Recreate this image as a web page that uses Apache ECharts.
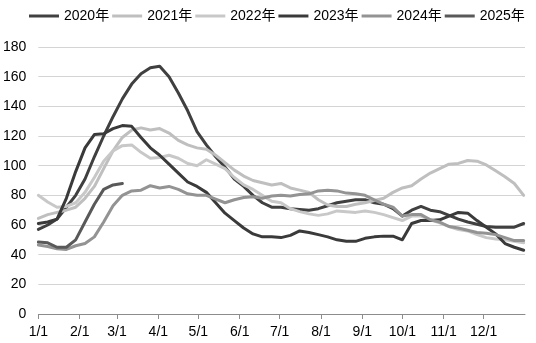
<!DOCTYPE html>
<html>
<head>
<meta charset="utf-8">
<script src="https://cdn.jsdelivr.net/npm/echarts@6/dist/echarts.min.js"></script>
<style>
  html, body { margin: 0; padding: 0; background: #fff; }
  #chart { width: 536px; height: 343px; }
</style>
</head>
<body>
<div id="chart"></div>
<script>
// Weekly readings, x = day of year (0 = Jan 1)
const weekDays = [];
for (let i = 0; i <= 52; i++) weekDays.push(i * 7);

const years = ['2020年', '2021年', '2022年', '2023年', '2024年', '2025年'];
const colors = ['#404040', '#bfbfbf', '#c8c8c8', '#3a3a3a', '#939393', '#595959'];

const v2020 = [57, 60, 64, 72, 80, 91, 106, 120, 133, 145, 155, 162, 166, 167, 160, 149, 137, 123, 114, 106, 99, 91, 86, 80, 75, 72, 72, 71, 70.5, 70, 71, 73, 75, 76, 77, 77, 75, 74, 71, 66, 70, 72.5, 70, 69, 66.5, 64, 62, 60.5, 59, 58.5, 58.5, 58.5, 61];
const v2021 = [64.5, 67, 68.5, 70, 72, 78, 86, 98, 110, 119, 124, 125.5, 124, 125, 122, 117, 114, 112, 111, 107, 102, 97, 93, 90, 88.5, 87, 88, 85, 83.5, 82, 77, 73.5, 72.5, 72.5, 74, 75, 76.5, 78, 82, 85, 86.5, 91, 95, 98, 101, 101.5, 103.5, 103, 100.5, 96.5, 92.5, 88, 80];
const v2022 = [80, 75.5, 72, 72.5, 75, 82, 92, 103, 110, 113.5, 114, 109, 105, 105.5, 107, 105, 101.5, 100, 104, 101, 98, 92, 87, 84, 80, 76, 75, 71, 69, 67.5, 66.5, 67.5, 69.5, 69, 68.5, 69.5, 68.5, 67, 65, 63, 66, 66, 63.5, 61.5, 59, 57, 56, 53.5, 51.5, 50.5, 50, 49, 48];
const v2023 = [61, 62, 64, 78, 96, 112, 121, 121.5, 125, 127, 126.5, 119, 112, 107, 101, 95, 89, 86, 82, 75, 68, 63, 58, 54, 52, 52, 51.5, 53, 56, 55, 53.5, 52, 50, 49, 49, 51, 52, 52.5, 52.5, 50, 61, 63, 63, 63.5, 66, 68.5, 68, 63, 58.5, 54, 47.5, 45, 43];
const v2024 = [46.5, 45.5, 44, 43.5, 46, 47.5, 52, 62, 73, 80, 83, 83.5, 86.5, 85, 86, 84, 81, 80, 80, 77.5, 75, 77, 78.5, 79, 78, 79.5, 80, 79.5, 80.5, 81, 83, 83.5, 83, 81.5, 81, 80, 77, 74, 72, 66, 67, 67, 63.5, 62, 59, 58, 56.5, 55, 54.5, 53.5, 51.5, 49.5, 49.5];
const v2025 = [48.5, 48, 45, 45, 50, 62, 74, 84, 87, 88];

const yearValues = [v2020, v2021, v2022, v2023, v2024, v2025];

// Month-start ticks along the day axis
const monthTickDays = [0, 31, 59, 90, 120, 151, 181, 212, 243, 273, 304, 334];
const monthTickLabels = ['1/1', '2/1', '3/1', '4/1', '5/1', '6/1', '7/1', '8/1', '9/1', '10/1', '11/1', '12/1'];

const FONT = '"Liberation Sans", Arial, "Noto Sans CJK SC", sans-serif';

const series = years.map((name, k) => ({
  name: name,
  type: 'line',
  data: yearValues[k].map((v, i) => [weekDays[i], v]),
  showSymbol: false,
  symbol: 'none',
  smooth: false,
  lineStyle: { width: 3, color: colors[k], join: 'round', cap: 'round' },
  itemStyle: { color: colors[k] },
  emphasis: { disabled: true },
  animation: false
}));

const chart = echarts.init(document.getElementById('chart'), null, { renderer: 'canvas' });
chart.setOption({
  animation: false,
  legend: {
    top: 4,
    left: 24,
    itemWidth: 30,
    itemHeight: 14,
    itemGap: 3,
    textStyle: { fontFamily: FONT, fontSize: 14, color: '#000' },
    data: years.map((n, k) => ({ name: n, icon: 'path://M0,5.5 L30,5.5 L30,8.5 L0,8.5 Z', itemStyle: { color: colors[k] } }))
  },
  grid: { left: 37, right: 11, top: 47, bottom: 29, containLabel: false },
  xAxis: {
    type: 'value',
    min: 0,
    max: 365,
    axisLine: { show: true, lineStyle: { color: '#8c8c8c', width: 1 } },
    axisTick: { show: true, length: 5, lineStyle: { color: '#8c8c8c' }, customValues: monthTickDays },
    axisLabel: {
      customValues: monthTickDays,
      formatter: (val) => monthTickLabels[monthTickDays.indexOf(val)] || '',
      fontFamily: FONT, fontSize: 14, color: '#000', margin: 11
    },
    splitLine: { show: false }
  },
  yAxis: {
    type: 'value',
    min: 0,
    max: 180,
    interval: 20,
    axisLine: { show: false },
    axisTick: { show: false },
    axisLabel: { fontFamily: FONT, fontSize: 14, color: '#000', margin: 12 },
    splitLine: { show: true, lineStyle: { color: '#d4d4d4', width: 1 } }
  },
  series: series
});
</script>
</body>
</html>
